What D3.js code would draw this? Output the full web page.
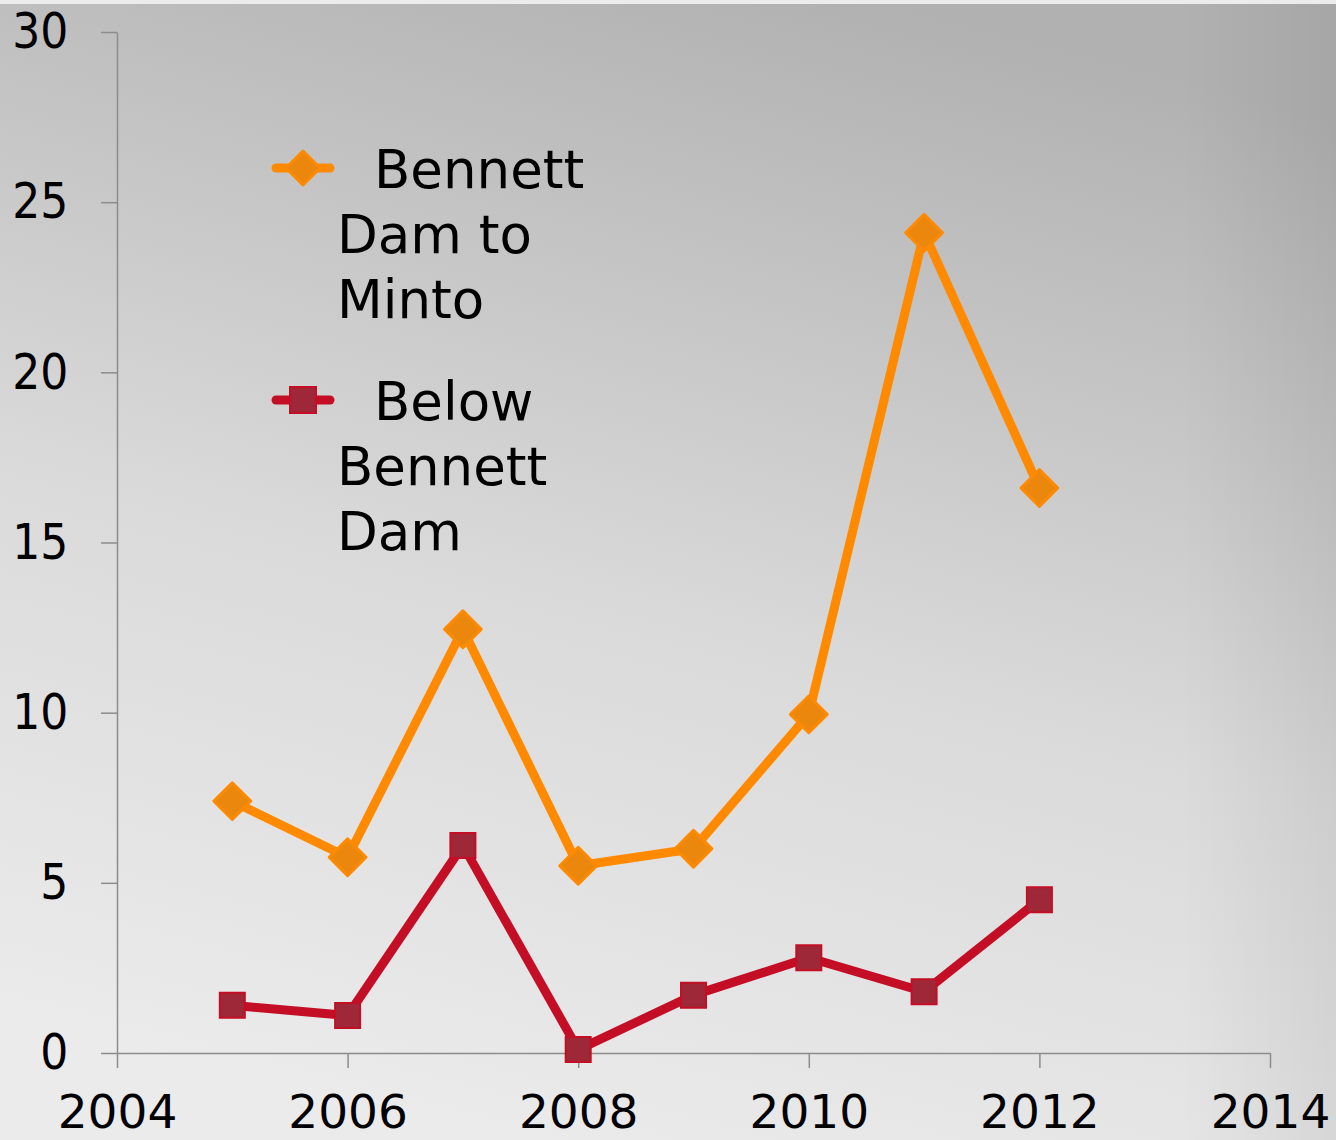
<!DOCTYPE html>
<html>
<head>
<meta charset="utf-8">
<script src="https://cdn.jsdelivr.net/npm/d3@7"></script>
<style>
  body { margin: 0; }
  svg { display: block; }
  svg text { font-family: "DejaVu Sans", Verdana, sans-serif; }
</style>
</head>
<body>
<div id="chart"></div>
<script>
// data
var years = [2005, 2006, 2007, 2008, 2009, 2010, 2011, 2012];
var minto = [7.4, 5.75, 12.45, 5.5, 6.0, 9.95, 24.1, 16.6];
var belowDam = [1.4, 1.1, 6.1, 0.1, 1.7, 2.8, 1.8, 4.5];
var xTicks = [2004, 2006, 2008, 2010, 2012, 2014];
var yTicks = [0, 5, 10, 15, 20, 25, 30];
var seriesNames = [["Bennett", "Dam to", "Minto"], ["Below", "Bennett", "Dam"]];

var width = 1336, height = 1140;

var svg = d3.select("#chart").append("svg")
  .attr("width", width)
  .attr("height", height);

// background gradient
var defs = svg.append("defs");
var grad = defs.append("linearGradient")
  .attr("id", "bg")
  .attr("x1", "35%").attr("y1", "100%")
  .attr("x2", "65%").attr("y2", "0%");
grad.append("stop").attr("offset", "0%").attr("stop-color", "#ebebeb");
grad.append("stop").attr("offset", "45%").attr("stop-color", "#dadada");
grad.append("stop").attr("offset", "100%").attr("stop-color", "#b1b1b1");

var edge = defs.append("linearGradient")
  .attr("id", "edge")
  .attr("x1", "0%").attr("x2", "100%");
edge.append("stop").attr("offset", "0%").attr("stop-color", "#000").attr("stop-opacity", 0);
edge.append("stop").attr("offset", "100%").attr("stop-color", "#000").attr("stop-opacity", 0.06);

svg.append("rect").attr("width", width).attr("height", height).attr("fill", "url(#bg)");
svg.append("rect").attr("x", 1180).attr("width", 156).attr("height", height).attr("fill", "url(#edge)");
svg.append("rect").attr("width", width).attr("height", 4).attr("fill", "#ececec");

// scales
var x = d3.scaleLinear().domain([2004, 2014]).range([117, 1270]);
var y = d3.scaleLinear().domain([0, 30]).range([1053, 32]);

// axes
var xAxis = svg.append("g")
  .attr("transform", "translate(0," + y(0) + ")")
  .call(d3.axisBottom(x).tickValues(xTicks).tickFormat(d3.format("d")).tickSize(15).tickSizeOuter(0).tickPadding(27));

var yAxis = svg.append("g")
  .attr("transform", "translate(" + x(2004) + ",0)")
  .call(d3.axisLeft(y).tickValues(yTicks).tickSize(16).tickSizeOuter(0).tickPadding(38));

svg.selectAll("g").attr("font-family", null);

svg.selectAll(".domain, .tick line")
  .attr("stroke", "#8c8c8c")
  .attr("stroke-width", 1.5);

xAxis.selectAll("text")
  .attr("fill", "#000")
  .style("font-size", "47px");

yAxis.selectAll("text")
  .attr("fill", "#000")
  .style("font-size", "49px")
  .attr("transform", "scale(0.9,1)");

// lines
var line = d3.line()
  .x(function(d) { return x(d[0]); })
  .y(function(d) { return y(d[1]); });

var orangeData = years.map(function(yr, i) { return [yr, minto[i]]; });
var redData = years.map(function(yr, i) { return [yr, belowDam[i]]; });

svg.append("path")
  .datum(orangeData)
  .attr("d", line)
  .attr("fill", "none")
  .attr("stroke", "#ff8a00")
  .attr("stroke-width", 9)
  .attr("stroke-linejoin", "round");

svg.append("path")
  .datum(redData)
  .attr("d", line)
  .attr("fill", "none")
  .attr("stroke", "#c40e25")
  .attr("stroke-width", 9)
  .attr("stroke-linejoin", "round");

var diamond = d3.symbol().type(d3.symbolSquare).size(26 * 26);

svg.selectAll(".diamond")
  .data(orangeData)
  .enter().append("path")
  .attr("class", "diamond")
  .attr("d", diamond)
  .attr("transform", function(d) { return "translate(" + x(d[0]) + "," + y(d[1]) + ") rotate(45)"; })
  .attr("fill", "#ec870e")
  .attr("stroke", "#ff8a00")
  .attr("stroke-width", 3)
  .attr("stroke-linejoin", "round");

var square = d3.symbol().type(d3.symbolSquare).size(25 * 25);

svg.selectAll(".square")
  .data(redData)
  .enter().append("path")
  .attr("class", "square")
  .attr("d", square)
  .attr("transform", function(d) { return "translate(" + x(d[0]) + "," + y(d[1]) + ")"; })
  .attr("fill", "#9e2837")
  .attr("stroke", "#c40e25")
  .attr("stroke-width", 2);

// legend
var legendY = [168, 400];
var legendColors = [["#ff8a00", "#ec870e"], ["#c40e25", "#9e2837"]];

seriesNames.forEach(function(lines, k) {
  var g = svg.append("g");
  g.append("line")
    .attr("x1", 276).attr("x2", 330)
    .attr("y1", legendY[k]).attr("y2", legendY[k])
    .attr("stroke", legendColors[k][0])
    .attr("stroke-width", 9)
    .attr("stroke-linecap", "round");
  if (k === 0) {
    g.append("path")
      .attr("d", d3.symbol().type(d3.symbolSquare).size(24 * 24))
      .attr("transform", "translate(303," + legendY[k] + ") rotate(45)")
      .attr("fill", legendColors[k][1])
      .attr("stroke", legendColors[k][0])
      .attr("stroke-width", 3)
      .attr("stroke-linejoin", "round");
  } else {
    g.append("path")
      .attr("d", d3.symbol().type(d3.symbolSquare).size(26 * 26))
      .attr("transform", "translate(303," + legendY[k] + ")")
      .attr("fill", legendColors[k][1])
      .attr("stroke", legendColors[k][0])
      .attr("stroke-width", 2);
  }
  lines.forEach(function(t, i) {
    g.append("text")
      .attr("x", i === 0 ? 374 : 337)
      .attr("y", legendY[k] + 20 + i * 65)
      .style("font-size", "53px")
      .attr("fill", "#000")
      .text(t);
  });
});
</script>
</body>
</html>
